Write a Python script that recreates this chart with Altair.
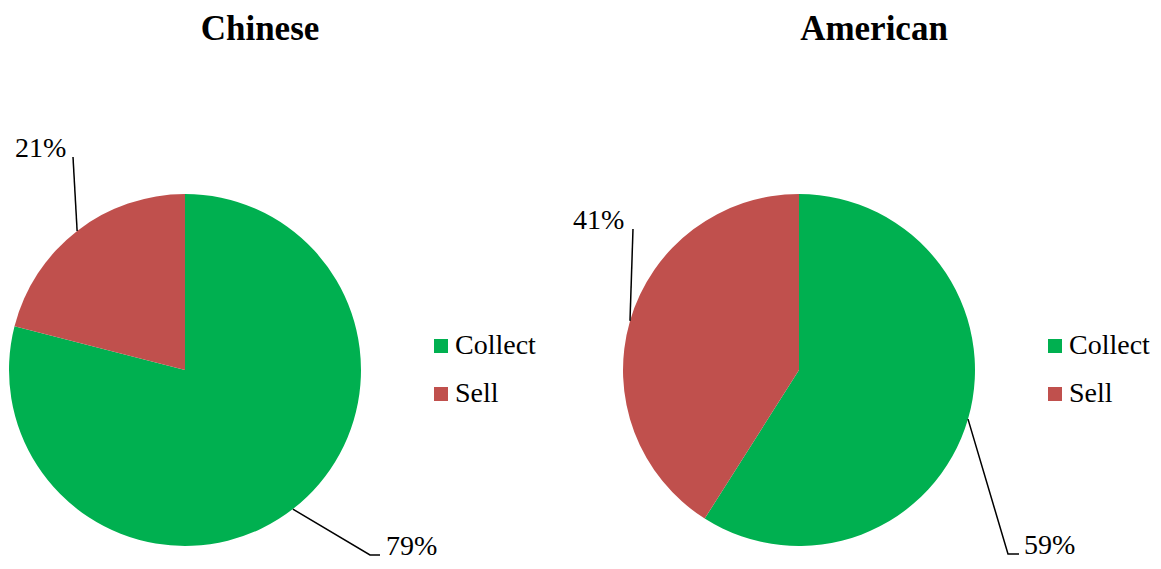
import math
import altair as alt
import pandas as pd

# ---------------- data ----------------
categories = ["Collect", "Sell"]
chinese_values = [79, 21]
american_values = [59, 41]
panel_titles = ["Chinese", "American"]
slice_colors = ["#00B050", "#C0504D"]

# ---------------- layout (pixels) ----------------
W, H = 504, 498          # plot area of each panel
CX, CY = 177, 310        # pie centre inside the plot area
R = 176                  # pie radius
FONT = "Liberation Serif, Times New Roman, serif"

# leader-line bends and label anchors, relative to pie centre (y downwards)
leader_layout = {
    "Chinese": {
        "Collect": {"bend": [(185, 185), (195, 185)], "text": (201, 185)},
        "Sell": {"bend": [(-112, -213)], "text": (-170, -213)},
    },
    "American": {
        "Collect": {"bend": [(209, 184), (220, 184)], "text": (225, 184)},
        "Sell": {"bend": [(-166, -141)], "text": (-226, -141)},
    },
}


def panel(title, values):
    total = float(sum(values))
    pie_df = pd.DataFrame({"category": categories, "value": values,
                           "order": list(range(len(values)))})

    line_rows, text_rows = [], []
    cum = 0.0
    for cat, v in zip(categories, values):
        mid = 2 * math.pi * (cum + v / 2.0) / total
        cum += v
        ax, ay = R * math.sin(mid), -R * math.cos(mid)
        pts = [(ax, ay)] + leader_layout[title][cat]["bend"]
        for i, (px, py) in enumerate(pts):
            line_rows.append({"category": cat, "seq": i, "x": px, "y": py})
        tx, ty = leader_layout[title][cat]["text"]
        text_rows.append({"category": cat, "x": tx, "y": ty, "label": f"{v}%"})

    xscale = alt.Scale(domain=[-CX, W - CX], nice=False, zero=False)
    yscale = alt.Scale(domain=[-CY, H - CY], nice=False, zero=False, reverse=True)

    arc = alt.Chart(pie_df).mark_arc(outerRadius=R).encode(
        theta=alt.Theta("value:Q", stack=True),
        order=alt.Order("order:Q"),
        color=alt.Color(
            "category:N",
            scale=alt.Scale(domain=categories, range=slice_colors),
            sort=categories,
            legend=alt.Legend(
                title=None, orient="none",
                legendX=CX + 242, legendY=CY - 38,
                symbolType="square", symbolSize=196, symbolStrokeWidth=0,
                labelFont=FONT, labelFontSize=28, labelColor="black",
                labelOffset=0, rowPadding=20, padding=0,
            ),
        ),
        x=alt.value(CX),
        y=alt.value(CY),
    )

    leaders = alt.Chart(pd.DataFrame(line_rows)).mark_line(
        color="black", strokeWidth=1.5
    ).encode(
        x=alt.X("x:Q", scale=xscale, axis=None),
        y=alt.Y("y:Q", scale=yscale, axis=None),
        detail="category:N",
        order="seq:Q",
    )

    labels = alt.Chart(pd.DataFrame(text_rows)).mark_text(
        align="left", baseline="alphabetic", font=FONT, fontSize=28,
        color="black"
    ).encode(
        x=alt.X("x:Q", scale=xscale, axis=None),
        y=alt.Y("y:Q", scale=yscale, axis=None),
        text="label:N",
    )

    return alt.layer(arc, leaders, labels).properties(
        width=W, height=H,
        title=alt.TitleParams(
            title, font=FONT, fontSize=35, fontWeight="bold", color="black",
            anchor="middle", frame="group", offset=13,
        ),
    )


chart = alt.hconcat(
    panel(panel_titles[0], chinese_values),
    panel(panel_titles[1], american_values),
    spacing=110,
).resolve_scale(color="independent").resolve_legend(color="independent").properties(
    bounds="flush", padding={"top": 4, "left": 0, "right": 0, "bottom": 0}
).configure_view(stroke=None)

chart.save("out.html", embed_options={"renderer": "svg", "actions": False})
